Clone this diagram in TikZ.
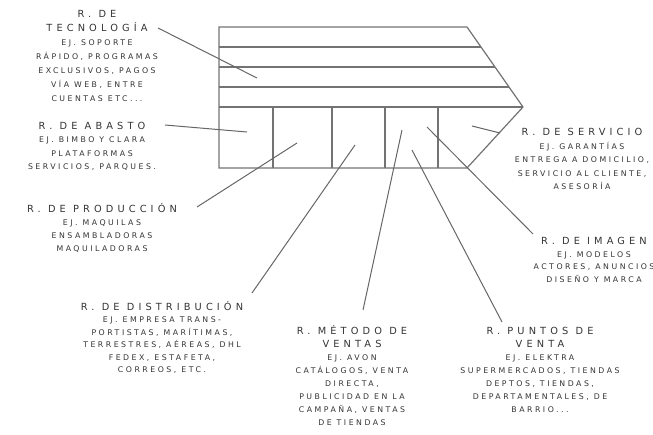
\documentclass[tikz,border=0pt]{standalone}
\usepackage{fontspec}
\setmainfont{DejaVu Sans}
\newfontfamily\ttlfont[LetterSpace=42]{DejaVu Sans}
\newfontfamily\exfont[LetterSpace=32]{DejaVu Sans}
\newcommand\ttl{\ttlfont\fontsize{9.8}{13}\selectfont}
\begin{document}
\begin{tikzpicture}[x=1pt,y=-1pt,
  ln/.style={draw=black!55,line width=1.2pt},
  lead/.style={draw=black!60,line width=1pt},
  lbl/.style={anchor=base,align=center,inner sep=0pt,text=black!80,
    font=\exfont\fontsize{7.8}{13}\selectfont}]
\useasboundingbox (0,0) rectangle (653,434);
% block
\draw[ln] (219,27) -- (467,27) -- (523,107) -- (467,168) -- (219,168) -- cycle;
\draw[ln] (219,47) -- (481,47);
\draw[ln] (219,67) -- (495,67);
\draw[ln] (219,87) -- (509,87);
\draw[ln] (219,107) -- (523,107);
\foreach \xx in {273,332,385,438} \draw[ln] (\xx,107) -- (\xx,168);
% inner ends
\coordinate (tecP) at (257,78);
\coordinate (abaP) at (247,132);
\coordinate (proP) at (297,143);
\coordinate (disP) at (355,145);
\coordinate (metP) at (402,130);
\coordinate (punP) at (412,150);
\coordinate (imaP) at (427,127);
\coordinate (serP) at (472,126);
% labels (anchor = baseline of last line)
\node[lbl,font=\exfont\fontsize{7.8}{14}\selectfont] (tec) at (97,101.5)
  {{\ttl R. DE}\\{\ttl TECNOLOGÍA}\\EJ. SOPORTE\\RÁPIDO, PROGRAMAS\\EXCLUSIVOS, PAGOS\\VÍA WEB, ENTRE\\CUENTAS ETC...};
\node[lbl,font=\exfont\fontsize{7.8}{13.3}\selectfont] (aba) at (92,169.5)
  {{\ttl R. DE ABASTO}\\EJ. BIMBO Y CLARA\\PLATAFORMAS\\SERVICIOS, PARQUES.};
\node[lbl] (pro) at (102,251.5)
  {{\ttl R. DE PRODUCCIÓN}\\EJ. MAQUILAS\\ENSAMBLADORAS\\MAQUILADORAS};
\node[lbl,font=\exfont\fontsize{7.8}{12.4}\selectfont] (dis) at (162,372.5)
  {{\ttl R. DE DISTRIBUCIÓN}\\EJ. EMPRESA TRANS-\\PORTISTAS, MARÍTIMAS,\\TERRESTRES, AÉREAS, DHL\\FEDEX, ESTAFETA,\\CORREOS, ETC.};
\node[lbl] (met) at (352,425.5)
  {{\ttl R. MÉTODO DE}\\{\ttl VENTAS}\\EJ. AVON\\CATÁLOGOS, VENTA\\DIRECTA,\\PUBLICIDAD EN LA\\CAMPAÑA, VENTAS\\DE TIENDAS};
\node[lbl] (pun) at (540,412.5)
  {{\ttl R. PUNTOS DE}\\{\ttl VENTA}\\EJ. ELEKTRA\\SUPERMERCADOS, TIENDAS\\DEPTOS, TIENDAS,\\DEPARTAMENTALES, DE\\BARRIO...};
\node[lbl,font=\exfont\fontsize{7.8}{13.5}\selectfont] (ser) at (582,189.5)
  {{\ttl R. DE SERVICIO}\\EJ. GARANTÍAS\\ENTREGA A DOMICILIO,\\SERVICIO AL CLIENTE,\\ASESORÍA};
\node[lbl,font=\exfont\fontsize{7.8}{12.7}\selectfont] (ima) at (594,282.5)
  {{\ttl R. DE IMAGEN}\\EJ. MODELOS\\ACTORES, ANUNCIOS\\DISEÑO Y MARCA};
% leaders
\draw[lead] ([shift={(61,-73.5)}]tec.base) -- (tecP);
\draw[lead] ([shift={(73,-44.5)}]aba.base) -- (abaP);
\draw[lead] ([shift={(95,-44.5)}]pro.base) -- (proP);
\draw[lead] ([shift={(90,-79.5)}]dis.base) -- (disP);
\draw[lead] ([shift={(11,-115.5)}]met.base) -- (metP);
\draw[lead] ([shift={(-38,-90.5)}]pun.base) -- (punP);
\draw[lead] ([shift={(-61,-48.5)}]ima.base) -- (imaP);
\draw[lead] ([shift={(-82,-56.5)}]ser.base) -- (serP);
\end{tikzpicture}
\end{document}
